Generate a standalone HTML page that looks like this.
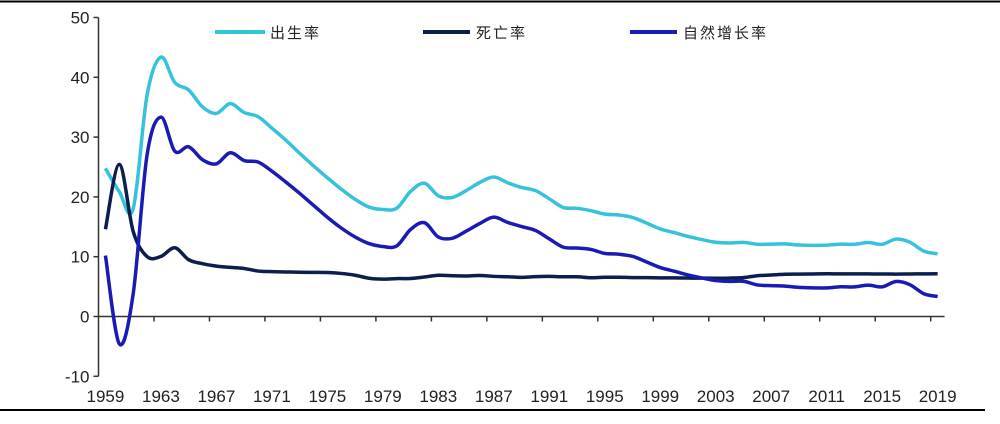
<!DOCTYPE html>
<html><head><meta charset="utf-8"><style>
body{margin:0;background:#fff;width:1000px;height:419px;overflow:hidden}
svg text{font-family:"Liberation Sans","Noto Sans CJK SC",sans-serif;fill:#222}
</style></head><body>
<svg id="chart" width="1000" height="419" xmlns="http://www.w3.org/2000/svg">
<line x1="0" y1="1.5" x2="1000" y2="1.5" stroke="#000" stroke-width="2"/>
<line x1="0" y1="410" x2="985" y2="410" stroke="#000" stroke-width="2"/>
<g id="axes"></g><g id="series"></g>
<g>
<line x1="215" y1="32" x2="265" y2="32" stroke="#36c2dc" stroke-width="4"/>
<text x="270" y="38" font-size="15" letter-spacing="2">出生率</text>
<line x1="423" y1="32" x2="470" y2="32" stroke="#0c1e4e" stroke-width="4"/>
<text x="476" y="38" font-size="15" letter-spacing="2">死亡率</text>
<line x1="630" y1="32" x2="677" y2="32" stroke="#1a1ab4" stroke-width="4"/>
<text x="683" y="38" font-size="15" letter-spacing="2">自然增长率</text>
</g>
</svg>
<script>
const years=[];for(let y=1959;y<=2019;y++)years.push(y);
const birthRate=[24.78,20.86,18.02,37.01,43.37,39.14,37.88,35.05,33.96,35.59,34.11,33.43,31.5,29.5,27.3,25.2,23.2,21.3,19.6,18.3,17.9,18.1,20.91,22.28,20.19,19.90,21.04,22.43,23.33,22.37,21.58,21.06,19.68,18.24,18.09,17.70,17.12,16.98,16.57,15.64,14.64,14.03,13.38,12.86,12.41,12.29,12.40,12.09,12.10,12.14,11.95,11.90,11.93,12.10,12.08,12.37,12.07,12.95,12.43,10.94,10.48];
const deathRate=[14.59,25.43,14.24,10.02,10.04,11.50,9.50,8.83,8.43,8.21,8.03,7.60,7.5,7.45,7.4,7.38,7.35,7.2,6.9,6.4,6.25,6.34,6.36,6.60,6.90,6.82,6.78,6.86,6.72,6.64,6.54,6.67,6.70,6.64,6.64,6.49,6.57,6.56,6.51,6.50,6.46,6.45,6.43,6.41,6.40,6.42,6.51,6.81,6.93,7.06,7.08,7.11,7.14,7.13,7.13,7.12,7.11,7.09,7.11,7.13,7.14];
const growthRate=[10.19,-4.57,3.78,26.99,33.33,27.64,28.38,26.22,25.53,27.38,26.08,25.83,24.3,22.5,20.6,18.6,16.6,14.8,13.3,12.2,11.7,11.8,14.55,15.68,13.29,13.08,14.26,15.57,16.61,15.73,15.04,14.39,12.98,11.60,11.45,11.21,10.55,10.42,10.06,9.14,8.18,7.58,6.95,6.45,6.01,5.87,5.89,5.28,5.17,5.08,4.87,4.79,4.79,4.97,4.95,5.25,4.96,5.86,5.32,3.81,3.34];
const yTicks=[-10,0,10,20,30,40,50];
const NS="http://www.w3.org/2000/svg";
const x0=98.5,step=13.87,yZero=316.5,ppu=5.98;
const xs=i=>x0+(i+0.5)*step;
const ys=v=>yZero-v*ppu;
const axes=document.getElementById('axes'),ser=document.getElementById('series');
function mk(tag,attrs,parent){const e=document.createElementNS(NS,tag);for(const k in attrs)e.setAttribute(k,attrs[k]);parent.appendChild(e);return e;}
let a=mk('line',{x1:x0,y1:ys(50),x2:x0,y2:ys(-10),stroke:'#333','stroke-width':1.5},axes);


yTicks.forEach(t=>{
 const l=mk('line',{x1:x0-5,y1:ys(t),x2:x0,y2:ys(t),stroke:'#333','stroke-width':1.5},axes);
 
 
 const tx=mk('text',{x:x0-9,y:ys(t)+6,'text-anchor':'end','font-size':17},axes);tx.textContent=t;
 
 
});
const xa=mk('line',{x1:x0,y1:yZero,x2:x0+years.length*step,y2:yZero,stroke:'#333','stroke-width':1.5},axes);


years.forEach((y,i)=>{
 if(i%4===0&&i>0){const l=mk('line',{x1:x0+i*step,y1:yZero,x2:x0+i*step,y2:yZero+5,stroke:'#333','stroke-width':1.5},axes);
  
  }
 if(i%4===0){const t=mk('text',{x:xs(i),y:402,'text-anchor':'middle','font-size':17},axes);t.textContent=y;
  
  }
});
function smooth(vals){const p=vals.map((v,i)=>[xs(i),ys(v)]);let d='M'+p[0][0]+','+p[0][1];
 for(let i=0;i<p.length-1;i++){const p0=p[i-1]||p[i],p1=p[i],p2=p[i+1],p3=p[i+2]||p2;
  d+=' C'+(p1[0]+(p2[0]-p0[0])/6)+','+(p1[1]+(p2[1]-p0[1])/6)+' '+(p2[0]-(p3[0]-p1[0])/6)+','+(p2[1]-(p3[1]-p1[1])/6)+' '+p2[0]+','+p2[1];}
 return d;}
const b=mk('path',{d:smooth(birthRate),fill:'none',stroke:'#36c2dc','stroke-width':3.5},ser);


const dl=mk('path',{d:smooth(deathRate),fill:'none',stroke:'#0c1e4e','stroke-width':3.5},ser);


const g=mk('path',{d:smooth(growthRate),fill:'none',stroke:'#1a1ab4','stroke-width':3.5},ser);


</script>
</body></html>
